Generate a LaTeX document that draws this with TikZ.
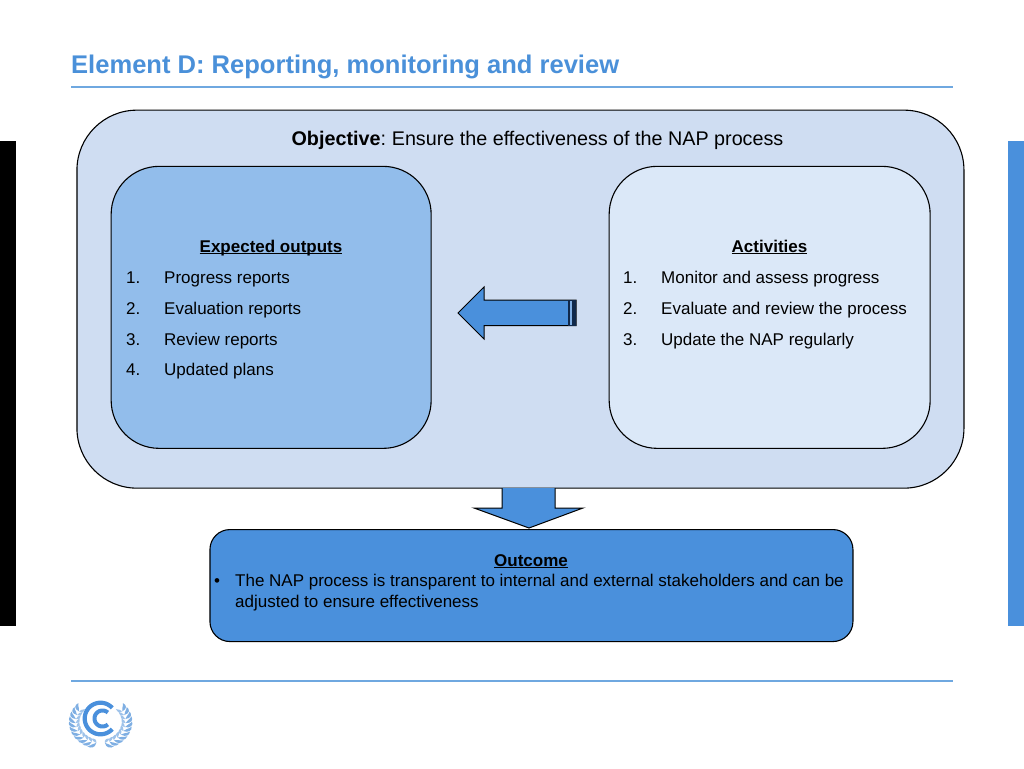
\documentclass[tikz,border=0pt]{standalone}
\usepackage{fontspec}
\setmainfont{Liberation Sans}
\definecolor{unblue}{HTML}{4A90DC}
\definecolor{outerfill}{HTML}{CFDDF2}
\definecolor{leftfill}{HTML}{92BDEB}
\definecolor{rightfill}{HTML}{DBE8F8}
\definecolor{titleblue}{HTML}{4A90D9}
\definecolor{rulecol}{HTML}{6FA8E0}
\definecolor{leafcol}{HTML}{7FAFE3}
\definecolor{leaflight}{HTML}{9FC3EA}
\definecolor{banddark}{HTML}{10284A}
\definecolor{bandlight}{HTML}{7FAEE3}
\tikzset{
  panel/.style={draw=black,line width=1.1pt,inner sep=0pt,anchor=north west},
  label/.style={inner sep=0pt,anchor=base west,font=\fontsize{17}{20}\selectfont,text=black},
  clabel/.style={inner sep=0pt,anchor=base,font=\fontsize{17}{20}\selectfont\bfseries,text=black},
  blockarrow/.style={draw=black,fill=unblue,line width=1pt,line join=miter}
}
\newcommand{\ul}[1]{\underline{\smash{#1}}}
\begin{document}
\begin{tikzpicture}[x=1pt,y=-1pt]
\useasboundingbox (0,0) rectangle (1024,768);
% side bars
\fill[black] (0,141) rectangle (16,626);
\fill[unblue] (1008,141) rectangle (1024,626);
% title and rules
\node[inner sep=0pt,anchor=base west,font=\fontsize{25.55}{28}\selectfont\bfseries,text=titleblue] (title) at (71,73) {Element D: Reporting, monitoring and review};
\draw[rulecol,line width=1.2pt] (71,87) -- (953,87);
\draw[rulecol,line width=1.2pt] (71,681) -- (953,681);
% panels
\node[panel,fill=outerfill,rounded corners=60pt,minimum width=887pt,minimum height=378pt] (outer) at (76.4,109.6) {};
\node[panel,fill=leftfill,rounded corners=48pt,minimum width=320pt,minimum height=282pt] (outputs) at (110.6,165.8) {};
\node[panel,fill=rightfill,rounded corners=48pt,minimum width=321pt,minimum height=282pt] (activities) at (608.6,165.8) {};
\node[panel,fill=unblue,rounded corners=20pt,minimum width=643pt,minimum height=112pt] (outcome) at (209.4,529) {};
% objective
\node[inner sep=0pt,anchor=base,font=\fontsize{19.75}{22}\selectfont] (objective) at (537.5,145) {\textbf{Objective}:\kern-1.5pt{} Ensure the effectiveness of the NAP process};
% left arrow
\draw[blockarrow] (576,300) -- (484,300) -- (484,287) -- (458,313) -- (484,339) -- (484,325.5) -- (576,325.5) -- cycle;
\fill[banddark] (567.5,300) rectangle (576,325.5);
\fill[bandlight] (569.5,300.6) rectangle (572,324.9);
% down arrow
\draw[blockarrow] (502,488) -- (502,508) -- (474,508) -- (529,528) -- (583,508) -- (555,508) -- (555,488);
% outputs
\node[clabel] (otitle) at (271,252) {\ul{Expected outputs}};
\node[label] (o1n) at (126,283) {1.};
\node[label] (o1) at (164,283) {Progress reports};
\node[label] (o2n) at (126,314) {2.};
\node[label] (o2) at (164,314) {Evaluation reports};
\node[label] (o3n) at (126,345) {3.};
\node[label] (o3) at (164,345) {Review reports};
\node[label] (o4n) at (126,375) {4.};
\node[label] (o4) at (164,375) {Updated plans};
% activities
\node[clabel] (atitle) at (769.5,252) {\ul{Activities}};
\node[label] (a1n) at (623,283) {1.};
\node[label] (a1) at (661,283) {Monitor and assess progress};
\node[label] (a2n) at (623,314) {2.};
\node[label] (a2) at (661,314) {Evaluate and review the process};
\node[label] (a3n) at (623,345) {3.};
\node[label] (a3) at (661,345) {Update the NAP regularly};
% outcome
\node[clabel] (ctitle) at (531,566) {\ul{Outcome}};
\node[label] (bul) at (214,586.5) {•};
\node[label] (c1) at (235,586.5) {The NAP process is transparent to internal and external stakeholders and can be};
\node[label] (c2) at (235,607.5) {adjusted to ensure effectiveness};
% logo: laurel wreath (angles measured with y pointing down)
\foreach \a in {100,111,...,214}{
  \foreach \s in {1,-1}{
    \pgfmathsetmacro{\b}{\s>0 ? \a : 180-\a}
    \pgfmathsetmacro{\t}{\s>0 ? \a+15 : 180-\a-15}
    \pgfmathsetmacro{\m}{(\b+\t)/2}
    % outer leaf
    \fill[leafcol] ({100.6+25*cos(\b)},{722+.85*25*sin(\b)})
      .. controls ({100.6+31*cos(\b)},{722+.85*31*sin(\b)}) and ({100.6+33*cos(\m)},{722+.85*33*sin(\m)})
      .. ({100.6+31.5*cos(\t)},{722+.85*31.5*sin(\t)})
      .. controls ({100.6+29*cos(\m)},{722+.85*29*sin(\m)}) and ({100.6+26*cos(\m)},{722+.85*26*sin(\m)})
      .. cycle;
    % inner leaf
    \fill[leaflight] ({100.6+25*cos(\b)},{722+.85*25*sin(\b)})
      .. controls ({100.6+21*cos(\b)},{722+.85*21*sin(\b)}) and ({100.6+20*cos(\m)},{722+.85*20*sin(\m)})
      .. ({100.6+21.5*cos(\t)},{722+.85*21.5*sin(\t)})
      .. controls ({100.6+23*cos(\m)},{722+.85*23*sin(\m)}) and ({100.6+25*cos(\m)},{722+.85*25*sin(\m)})
      .. cycle;
  }
}
% logo: the two Cs
\draw[unblue,line width=4.2pt] plot[smooth,domain=42:318,samples=40] ({100.5+15.8*cos(\x)},{718.5+15.8*sin(\x)});
\draw[unblue,line width=4pt] plot[smooth,domain=48:312,samples=30] ({102.5+8*cos(\x)},{718.5+8*sin(\x)});
\end{tikzpicture}
\end{document}
